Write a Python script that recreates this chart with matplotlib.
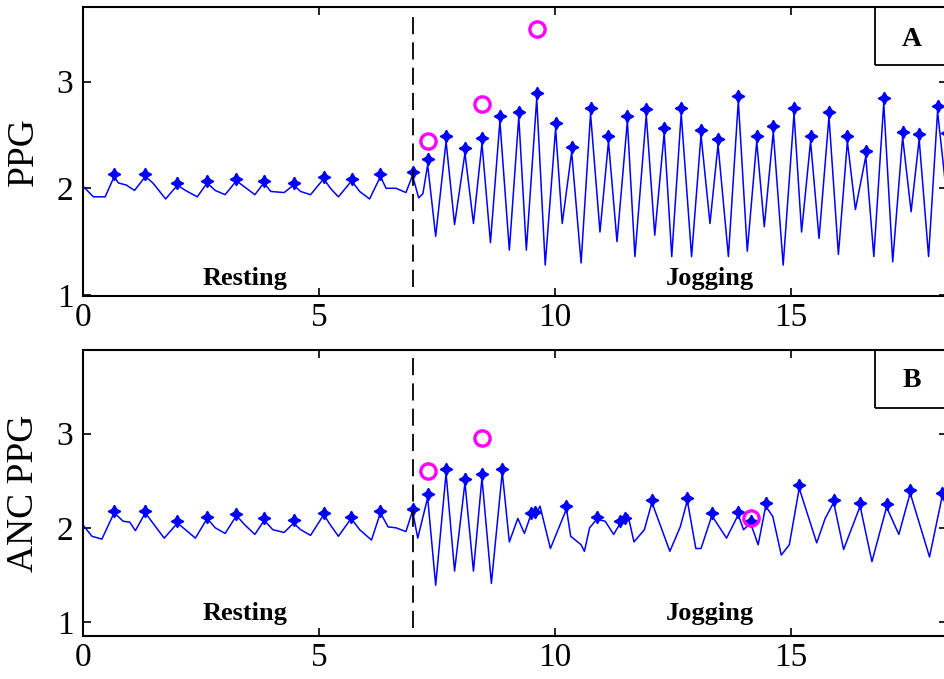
import matplotlib
matplotlib.use("Agg")
import matplotlib.pyplot as plt
from matplotlib.patches import Rectangle

# PPG trace (panel A), vertices
ppg_t = [0, 0.22, 0.47, 0.66, 0.75, 0.92, 1.09, 1.32, 1.48, 1.75, 2.0, 2.17, 2.42,
         2.63, 2.80, 3.01, 3.25, 3.43, 3.64, 3.83, 3.98, 4.26, 4.46, 4.61, 4.82,
         5.10, 5.24, 5.41, 5.69, 5.86, 6.07, 6.30, 6.42, 6.63, 6.84, 6.98, 7.11,
         7.20, 7.30, 7.47, 7.69, 7.87, 8.09, 8.27, 8.45, 8.63, 8.83, 9.03, 9.23,
         9.39, 9.61, 9.79, 10.01, 10.15, 10.35, 10.55, 10.75, 10.95, 11.13, 11.31,
         11.53, 11.69, 11.93, 12.11, 12.31, 12.47, 12.67, 12.89, 13.09, 13.28,
         13.45, 13.67, 13.88, 14.07, 14.27, 14.43, 14.62, 14.83, 15.06, 15.22,
         15.41, 15.59, 15.80, 16.0, 16.19, 16.36, 16.58, 16.75, 16.96, 17.15,
         17.36, 17.54, 17.71, 17.91, 18.10, 18.34]
ppg_v = [2.02, 1.92, 1.92, 2.11, 2.05, 2.03, 1.98, 2.11, 2.05, 1.90, 2.03, 1.98, 1.92,
         2.05, 1.98, 1.94, 2.07, 2.01, 1.94, 2.05, 1.97, 1.96, 2.03, 1.97, 1.94,
         2.09, 2.00, 1.92, 2.07, 1.97, 1.90, 2.11, 2.00, 2.00, 1.96, 2.12, 1.91,
         1.95, 2.22, 1.55, 2.44, 1.66, 2.33, 1.67, 2.42, 1.49, 2.63, 1.42, 2.67,
         1.42, 2.84, 1.28, 2.56, 1.67, 2.34, 1.30, 2.70, 1.59, 2.44, 1.50,
         2.63, 1.36, 2.69, 1.56, 2.52, 1.36, 2.70, 1.36, 2.50, 1.67,
         2.41, 1.36, 2.82, 1.41, 2.44, 1.64, 2.53, 1.28, 2.70, 1.59,
         2.44, 1.53, 2.67, 1.38, 2.44, 1.80, 2.30, 1.36, 2.80, 1.31,
         2.48, 1.78, 2.46, 1.36, 2.72, 1.74]
ppg_peak_t = [0.66, 1.32, 2.0, 2.63, 3.25, 3.83, 4.46, 5.10, 5.69, 6.30, 6.98,
              7.30, 7.69, 8.09, 8.45, 8.83, 9.23, 9.61, 10.01, 10.35, 10.75,
              11.13, 11.53, 11.93, 12.31, 12.67, 13.09, 13.45, 13.88, 14.27, 14.62,
              15.06, 15.41, 15.80, 16.19, 16.58, 16.96, 17.36, 17.71, 18.10, 18.30]
ppg_peak_v = [2.13, 2.13, 2.05, 2.07, 2.09, 2.07, 2.05, 2.11, 2.09, 2.13, 2.15,
              2.27, 2.49, 2.38, 2.47, 2.68, 2.72, 2.89, 2.61, 2.39, 2.75,
              2.49, 2.68, 2.74, 2.57, 2.75, 2.55, 2.46, 2.87, 2.49, 2.58,
              2.75, 2.49, 2.72, 2.49, 2.35, 2.85, 2.53, 2.51, 2.77, 2.52]
ppg_miss_t = [7.30, 8.45, 9.61]
ppg_miss_v = [2.44, 2.79, 3.49]

# ANC PPG trace (panel B)
anc_t = [0, 0.19, 0.40, 0.66, 0.85, 0.99, 1.11, 1.32, 1.48, 1.72, 2.0, 2.17, 2.38,
         2.63, 2.80, 3.01, 3.25, 3.43, 3.64, 3.84, 4.02, 4.26, 4.46, 4.61, 4.82,
         5.10, 5.24, 5.41, 5.68, 5.86, 6.11, 6.30, 6.46, 6.63, 6.84, 6.98,
         7.09, 7.30, 7.47, 7.69, 7.87, 8.09, 8.27, 8.45, 8.65, 8.88, 9.03, 9.21,
         9.35, 9.48, 9.57, 9.68, 9.90, 10.24, 10.33, 10.55, 10.62, 10.73, 10.88,
         11.06, 11.24, 11.38, 11.47, 11.54, 11.67, 11.89, 12.05, 12.43, 12.65,
         12.80, 12.98, 13.09, 13.32, 13.63, 13.88, 13.99, 14.14, 14.30, 14.46,
         14.61, 14.79, 14.96, 15.17, 15.54, 15.72, 15.90, 16.11, 16.46, 16.71,
         17.02, 17.28, 17.52, 17.93, 18.20, 18.30, 18.41]
anc_v = [2.03, 1.91, 1.88, 2.16, 2.07, 2.06, 1.97, 2.16, 2.05, 1.89, 2.05, 1.98, 1.89,
         2.10, 2.00, 1.94, 2.13, 2.03, 1.93, 2.08, 1.98, 1.95, 2.05, 1.98, 1.92,
         2.14, 2.03, 1.91, 2.10, 1.98, 1.87, 2.16, 2.01, 2.00, 1.96, 2.18,
         1.89, 2.32, 1.39, 2.58, 1.54, 2.48, 1.54, 2.53, 1.41, 2.59, 1.85, 2.10,
         1.94, 2.13, 2.12, 2.23, 1.78, 2.20, 1.91, 1.82, 1.75, 2.00, 2.09,
         2.07, 1.93, 2.05, 2.08, 2.14, 1.85, 1.98, 2.27, 1.75, 2.01,
         2.29, 1.78, 1.78, 2.13, 1.89, 2.14, 1.98, 2.05, 1.82, 2.23,
         2.12, 1.71, 1.82, 2.42, 1.84, 2.10, 2.27, 1.77, 2.23, 1.64,
         2.22, 1.93, 2.37, 1.69, 2.34, 2.21, 2.12]
anc_peak_t = [0.66, 1.32, 2.0, 2.63, 3.25, 3.84, 4.46, 5.10, 5.68, 6.30, 6.98,
              7.30, 7.69, 8.09, 8.45, 8.88, 9.48, 9.57, 10.24, 10.88, 11.38,
              11.47, 12.05, 12.80, 13.32, 13.88, 14.14, 14.46, 15.17, 15.90, 16.46,
              17.02, 17.52, 18.20]
anc_peak_v = [2.18, 2.18, 2.07, 2.12, 2.15, 2.10, 2.08, 2.16, 2.12, 2.18, 2.20,
              2.36, 2.62, 2.52, 2.57, 2.63, 2.16, 2.17, 2.23, 2.11, 2.07,
              2.10, 2.30, 2.32, 2.16, 2.17, 2.07, 2.26, 2.45, 2.30, 2.26,
              2.25, 2.40, 2.37]
anc_miss_t = [7.30, 8.45, 14.14]
anc_miss_v = [2.60, 2.95, 2.10]

onset = 7.0
x_ticks = [0, 5, 10, 15]
y_ticks = [1, 2, 3]

plt.rcParams["font.family"] = ["Liberation Serif", "DejaVu Serif"]

W, H = 945, 679
fig = plt.figure(figsize=(W / 100, H / 100), dpi=100)

panels = [
    dict(rect=(83, 7, 864, 289), t=ppg_t, v=ppg_v, pt=ppg_peak_t, pv=ppg_peak_v,
         mt=ppg_miss_t, mv=ppg_miss_v, ylim=(0.99, 3.70), dash=(1.07, 3.63),
         ylabel="PPG", tag="A", ty=0.059, tagy=0.886),
    dict(rect=(83, 350, 864, 286), t=anc_t, v=anc_v, pt=anc_peak_t, pv=anc_peak_v,
         mt=anc_miss_t, mv=anc_miss_v, ylim=(0.85, 3.89), dash=(0.94, 3.82),
         ylabel="ANC PPG", tag="B", ty=0.080, tagy=0.895),
]

for p in panels:
    l, t, w, h = p["rect"]
    ax = fig.add_axes([l / W, 1 - (t + h) / H, w / W, h / H])
    ax.plot(p["t"], p["v"], color="#0000FF", lw=1.1)
    ax.plot(p["pt"], p["pv"], ls="none", marker=(4, 1, 0), ms=9,
            color="#0000FF", mec="#0000FF")
    ax.plot(p["mt"], p["mv"], ls="none", marker="o", ms=11, mfc="none",
            mec="#FF00FF", mew=2.4)
    ax.plot([onset, onset], p["dash"], color="black", lw=1.3,
            ls=(0, (9.5, 4.5)))

    ax.set_xlim(0, 18.3)
    ax.set_ylim(*p["ylim"])
    ax.set_xticks(x_ticks)
    ax.set_yticks(y_ticks)
    ax.tick_params(direction="in", top=True, right=True, length=6, width=1.2,
                   labelsize=24)
    ax.tick_params(axis="x", pad=5)
    ax.tick_params(axis="y", pad=7)
    for s in ax.spines.values():
        s.set_linewidth(1.5)
    ax.set_ylabel(p["ylabel"], fontsize=27)
    ax.yaxis.set_label_coords(-0.049, 0.5)

    ax.text(0.1875, p["ty"], "Resting", transform=ax.transAxes, ha="center",
            va="center", fontsize=19, fontweight="bold")
    ax.text(0.726, p["ty"], "Jogging", transform=ax.transAxes, ha="center",
            va="center", fontsize=19, fontweight="bold")

    ax.add_patch(Rectangle((0.9167, 1 - 58 / h), 0.2, 58 / h, transform=ax.transAxes,
                           fill=False, ec="black", lw=1.3, clip_on=False))
    ax.text(0.9595, p["tagy"], p["tag"], transform=ax.transAxes, ha="center",
            va="center", fontsize=20, fontweight="bold")

fig.savefig("out.png", dpi=100)
